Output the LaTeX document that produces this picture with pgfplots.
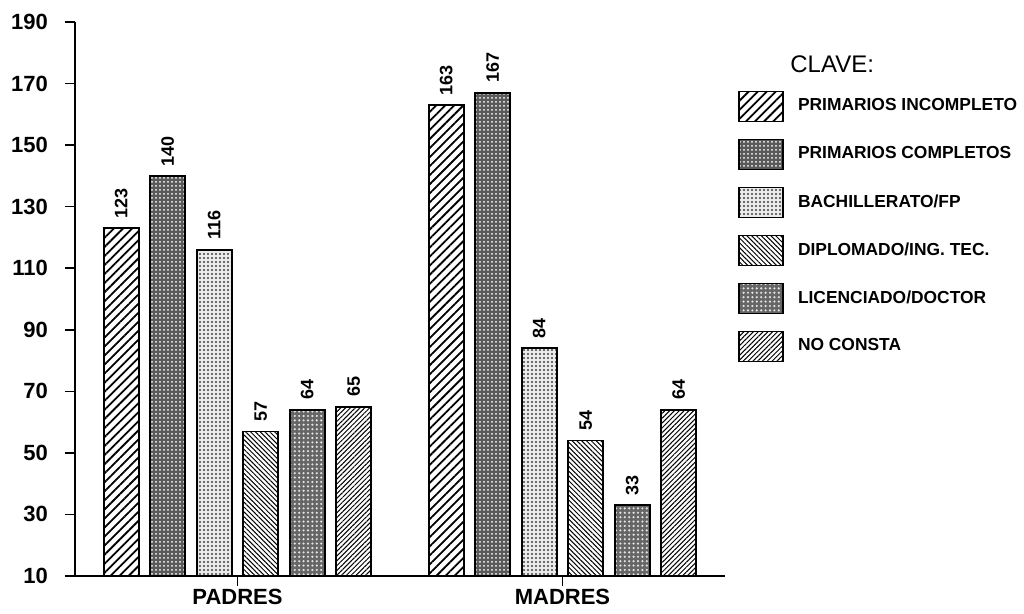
\documentclass[border=0pt]{standalone}
\usepackage{pgfplots}
\pgfplotsset{compat=1.18}
\usepackage{fontspec}
\setmainfont{Liberation Sans}
\usetikzlibrary{patterns.meta}

% fill styles of the six series
\pgfplotsset{
  swatch/.style={legend image code/.code={%
      \draw[##1, line width=0.8pt] (0pt,-7.5pt) rectangle (22pt,7.5pt);}},
  s1/.style={draw=black, line width=0.8pt, fill=white,
    postaction={pattern={Lines[angle=45, distance=3.2pt, line width=0.9pt]}}, swatch},
  s2/.style={draw=black, line width=0.8pt, fill=black!65,
    postaction={pattern={Dots[distance=2pt, radius=0.5pt]}, pattern color=white}, swatch},
  s3/.style={draw=black, line width=0.8pt, fill=black!8,
    postaction={pattern={Dots[distance=2pt, radius=0.55pt]}, pattern color=black!75}, swatch},
  s4/.style={draw=black, line width=0.8pt, fill=white,
    postaction={pattern={Lines[angle=-45, distance=1.7pt, line width=0.5pt]}}, swatch},
  s5/.style={draw=black, line width=0.8pt, fill=black!60,
    postaction={pattern={Dots[distance=2.2pt, radius=0.6pt]}, pattern color=white!90!black}, swatch},
  s6/.style={draw=black, line width=0.8pt, fill=white,
    postaction={pattern={Lines[angle=45, distance=1.7pt, line width=0.5pt]}}, swatch},
}

\begin{document}
\begin{tikzpicture}
  \path[use as bounding box] (-37.5pt,-19pt) rectangle (474.5pt,288pt);
  \begin{axis}[
    scale only axis,
    width=325pt, height=277pt,
    xmin=-0.5, xmax=1.5, ymin=10, ymax=190,
    axis x line*=bottom, axis y line*=left,
    axis line style={-, line width=0.8pt},
    ybar=5.75pt, bar width=17.5pt,
    xtick={0,1}, xticklabels={PADRES,MADRES},
    ytick={10,30,...,190},
    tick align=outside,
    major tick length=5pt,
    tick style={line width=0.8pt, black},
    /pgf/number format/assume math mode=true,
    yticklabel style={font=\bfseries\fontsize{11}{13}\selectfont, xshift=-5pt},
    xticklabel style={font=\bfseries\fontsize{11}{13}\selectfont, yshift=2pt},
    nodes near coords,
    nodes near coords style={font=\bfseries\fontsize{9}{10}\selectfont,
      rotate=90, anchor=west, inner sep=4.5pt},
    legend style={draw=none, fill=none, at={(1.02,0.877)}, anchor=north west,
      inner sep=0pt, row sep=8.2pt,
      font=\bfseries\fontsize{8.7}{10}\selectfont,
      /tikz/every odd column/.append style={column sep=5pt}},
    legend cell align=left,
  ]
    \addplot[s1] coordinates {(0,123) (1,163)};
    \addplot[s2] coordinates {(0,140) (1,167)};
    \addplot[s3] coordinates {(0,116) (1,84)};
    \addplot[s4] coordinates {(0,57) (1,54)};
    \addplot[s5] coordinates {(0,64) (1,33)};
    \addplot[s6] coordinates {(0,65) (1,64)};
    \legend{PRIMARIOS INCOMPLETO, PRIMARIOS COMPLETOS, BACHILLERATO/FP,
      DIPLOMADO/ING. TEC., LICENCIADO/DOCTOR, NO CONSTA}
  \end{axis}
  \node[anchor=base west, inner sep=0pt, font=\fontsize{12}{14}\selectfont]
    at (357.5pt,251.5pt) {CLAVE:};
\end{tikzpicture}
\end{document}
